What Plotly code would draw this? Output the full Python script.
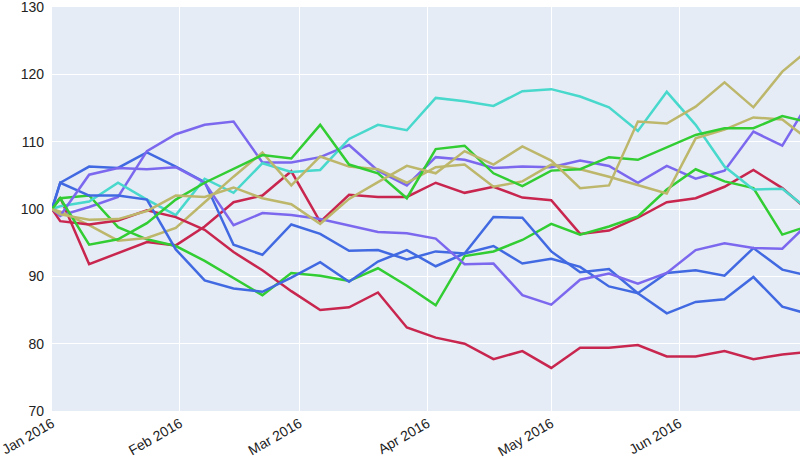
import plotly.graph_objects as go

dates = ["2016-01-01", "2016-01-03", "2016-01-10", "2016-01-17", "2016-01-24", "2016-01-31",
         "2016-02-07", "2016-02-14", "2016-02-21", "2016-02-28", "2016-03-06", "2016-03-13",
         "2016-03-20", "2016-03-27", "2016-04-03", "2016-04-10", "2016-04-17", "2016-04-24",
         "2016-05-01", "2016-05-08", "2016-05-15", "2016-05-22", "2016-05-29", "2016-06-05",
         "2016-06-12", "2016-06-19", "2016-06-26", "2016-07-03"]

month_ticks = ["2016-01-01", "2016-02-01", "2016-03-01", "2016-04-01", "2016-05-01", "2016-06-01"]

red_a = [100, 101.7, 91.8, 93.5, 95.1, 94.6, 97.4, 101.0, 102.0, 105.6, 98.1, 102.1, 101.8, 101.8,
         103.9, 102.4, 103.3, 101.7, 101.3, 96.3, 96.8, 98.7, 101.0, 101.6, 103.3, 105.8, 103.1, 99.4]
red_b = [100, 98.2, 97.7, 98.3, 99.8, 98.8, 96.9, 93.6, 90.9, 87.8, 85.0, 85.4, 87.6, 82.4,
         80.9, 80.0, 77.7, 78.9, 76.4, 79.4, 79.4, 79.8, 78.1, 78.1, 78.9, 77.7, 78.4, 78.8]
blue_a = [100, 103.9, 106.3, 106.1, 108.4, 106.3, 104.0, 94.7, 93.2, 97.7, 96.3, 93.8, 93.9, 92.5,
          93.7, 93.4, 94.5, 91.9, 92.6, 91.4, 88.5, 87.5, 90.5, 90.9, 90.1, 94.2, 91.0, 90.0]
blue_b = [100, 103.9, 102.0, 102.0, 101.4, 94.0, 89.4, 88.2, 87.7, 89.8, 92.1, 89.2, 92.2, 93.9,
          91.5, 93.4, 98.8, 98.7, 93.7, 90.6, 91.1, 87.5, 84.5, 86.2, 86.6, 89.9, 85.5, 84.3]
purple_a = [100, 99.0, 100.3, 101.8, 108.6, 111.1, 112.5, 113.0, 106.9, 106.9, 107.7, 109.5, 105.7, 103.5,
            107.7, 107.3, 106.1, 106.3, 106.2, 107.2, 106.4, 103.9, 106.4, 104.5, 105.7, 111.5, 109.4, 116.5]
purple_b = [100, 99.0, 105.1, 106.1, 105.9, 106.2, 103.9, 97.6, 99.4, 99.1, 98.5, 97.5, 96.6, 96.4,
            95.6, 91.8, 91.9, 87.2, 85.8, 89.5, 90.4, 88.9, 90.5, 93.9, 94.9, 94.2, 94.1, 98.3]
green_a = [100, 101.6, 102.0, 97.3, 95.5, 94.5, 92.3, 89.8, 87.2, 90.5, 90.1, 89.3, 91.2, 88.6,
           85.7, 93.0, 93.7, 95.4, 97.8, 96.2, 97.4, 98.9, 102.9, 105.9, 104.1, 103.1, 96.2, 97.6]
green_b = [100, 101.6, 94.7, 95.5, 97.9, 101.4, 103.9, 106.0, 108.0, 107.5, 112.5, 106.6, 105.3, 101.6,
           108.9, 109.4, 105.3, 103.4, 105.7, 105.9, 107.7, 107.3, 109.1, 111.0, 112.0, 112.0, 113.8, 112.8]
khaki_a = [100, 99.6, 97.6, 95.3, 95.7, 97.2, 101.0, 104.8, 108.4, 103.5, 107.8, 106.3, 105.9, 103.9,
           106.2, 106.6, 103.3, 104.1, 106.6, 105.9, 104.8, 103.6, 102.3, 110.5, 111.8, 113.6, 113.3, 110.0]
khaki_b = [100, 99.2, 98.4, 98.5, 99.7, 102.0, 101.8, 103.2, 101.6, 100.7, 97.8, 101.5, 104.0, 106.4,
           105.3, 108.6, 106.6, 109.3, 107.2, 103.1, 103.5, 113.0, 112.7, 115.2, 118.8, 115.1, 120.4, 124.0]
cyan_a = [100, 100.4, 101.1, 103.9, 101.4, 99.1, 104.5, 102.4, 106.8, 105.5, 105.8, 110.4, 112.5, 111.7,
          116.5, 116.0, 115.3, 117.5, 117.8, 116.7, 115.1, 111.6, 117.4, 112.5, 106.3, 102.9, 103.0, 99.6]

series = [
    ("A", red_a, "#C8264E"),
    ("B", blue_a, "#4169E1"),
    ("C", purple_a, "#7B68EE"),
    ("D", green_a, "#32CD32"),
    ("E", cyan_a, "#48D8CC"),
    ("F", khaki_a, "#BDB76B"),
    ("G", red_b, "#C8264E"),
    ("H", blue_b, "#4169E1"),
    ("I", purple_b, "#7B68EE"),
    ("J", green_b, "#32CD32"),
    ("K", khaki_b, "#BDB76B"),
]

fig = go.Figure()
for name, vals, col in series:
    fig.add_trace(go.Scatter(x=dates, y=vals, mode="lines", name=name,
                             line=dict(color=col, width=2.5)))

fig.update_layout(
    width=800, height=459,
    margin=dict(l=52, r=0, t=7, b=48),
    showlegend=False,
    plot_bgcolor="#E5ECF6",
    paper_bgcolor="white",
    font=dict(family="Arial", size=14, color="#222222"),
)
fig.update_xaxes(range=["2016-01-01", "2016-06-30 07:00"], tickvals=month_ticks,
                 tickformat="%b %Y", tickangle=-30, gridcolor="white", gridwidth=1,
                 showline=False, zeroline=False, automargin=False, ticklabeloverflow="allow",
                 ticklabelstandoff=1)
fig.update_yaxes(range=[70, 130], dtick=10, gridcolor="white", gridwidth=1,
                 zeroline=False, showline=False, automargin=False, ticklabeloverflow="allow",
                 ticklabelstandoff=7)

fig.write_html("out.html", config={"displayModeBar": False},
               post_script="document.body.style.margin='0px';document.body.style.overflow='hidden';")
